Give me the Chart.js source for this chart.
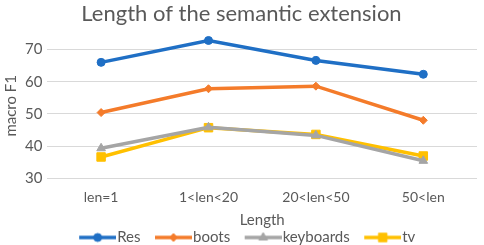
<!DOCTYPE html>
<html>
<head>
  <meta charset="UTF-8" />
  <title>Length of the semantic extension</title>
  <style>html, body { margin: 0; padding: 0; background: #fff; } #wrap { width: 484px; height: 245px; }</style>
  <script src="https://cdn.jsdelivr.net/npm/chart.js"></script>
</head>
<body>
  <div id="wrap"><canvas id="lenChart" width="484" height="245"></canvas></div>
  <script>
    const categories = ["len=1", "1<len<20", "20<len<50", "50<len"];
    const seriesNames = ["Res", "boots", "keyboards", "tv"];
    const resValues = [66.0, 72.8, 66.6, 62.3];
    const bootsValues = [50.4, 57.8, 58.6, 48.0];
    const keyboardsValues = [39.3, 45.8, 43.3, 35.4];
    const tvValues = [36.6, 45.7, 43.6, 36.9];
    const yTicks = [30, 40, 50, 60, 70];

    const colors = ["#1f6fc5", "#f47b2a", "#a5a5a5", "#ffc000"];
    const styles = ["circle", "rectRot", "triangle", "rect"];
    const radii = [4, 4, 5, 6];
    const allValues = [resValues, bootsValues, keyboardsValues, tvValues];

    // line + marker swatch for the legend (18px empty on the left as spacing)
    function swatch(i) {
      const c = document.createElement("canvas");
      c.width = 55; c.height = 14;
      const g = c.getContext("2d");
      g.strokeStyle = colors[i]; g.lineWidth = 3.5;
      g.beginPath(); g.moveTo(18, 7); g.lineTo(55, 7); g.stroke();
      g.fillStyle = colors[i];
      g.lineWidth = 1;
      Chart.helpers.drawPoint(g, { pointStyle: styles[i], radius: radii[i], borderWidth: 1 }, 36.5, 7);
      return c;
    }

    // legend reserves 10px of slack below; take most of it back
    const tightLegend = {
      id: "tightLegend",
      beforeInit(chart) {
        const lg = chart.legend;
        const fit = lg.fit;
        lg.fit = function () { fit.call(this); this.height -= 10; };
      }
    };

    const datasets = seriesNames.map((name, i) => ({
      label: name,
      data: allValues[i],
      borderColor: colors[i],
      backgroundColor: colors[i],
      borderWidth: 3.5,
      pointStyle: styles[i],
      pointRadius: radii[i],
      pointHoverRadius: radii[i],
      pointBorderWidth: 1,
      tension: 0
    }));

    new Chart(document.getElementById("lenChart"), {
      type: "line",
      data: { labels: categories, datasets },
      plugins: [tightLegend],
      options: {
        responsive: false,
        animation: false,
        layout: { padding: { left: 0, right: 1, top: 0, bottom: 0 } },
        plugins: {
          title: {
            display: true,
            text: "Length of the semantic extension",
            color: "#595959",
            font: { family: "Lato", size: 22, weight: "normal" },
            padding: { top: 1, bottom: 6 }
          },
          legend: {
            position: "bottom",
            labels: {
              color: "#595959",
              font: { family: "Lato", size: 15 },
              usePointStyle: true,
              pointStyleWidth: 42,
              padding: 3,
              generateLabels: chart => chart.data.datasets.map((d, i) => ({
                text: d.label,
                pointStyle: swatch(i),
                fillStyle: d.borderColor,
                strokeStyle: d.borderColor,
                lineWidth: 0,
                fontColor: "#595959",
                datasetIndex: i
              }))
            }
          },
          tooltip: { enabled: false }
        },
        scales: {
          x: {
            offset: true,
            grid: { display: false },
            border: { display: false },
            ticks: { color: "#595959", font: { family: "Lato", size: 14 }, padding: 3 },
            title: {
              display: true, text: "Length", color: "#595959",
              font: { family: "Lato", size: 15 }, padding: { top: 2, bottom: -2 }
            }
          },
          y: {
            min: 30, max: 75,
            afterBuildTicks: axis => { axis.ticks = yTicks.map(v => ({ value: v })); },
            grid: { color: "#d9d9d9", lineWidth: 1, drawTicks: false },
            border: { display: false },
            ticks: { color: "#595959", font: { family: "Lato", size: 15 }, padding: 5 },
            title: {
              display: true, text: "macro F1", color: "#595959",
              font: { family: "Lato", size: 15 }, padding: { top: 2, bottom: 0 }
            }
          }
        }
      }
    });
  </script>
</body>
</html>
